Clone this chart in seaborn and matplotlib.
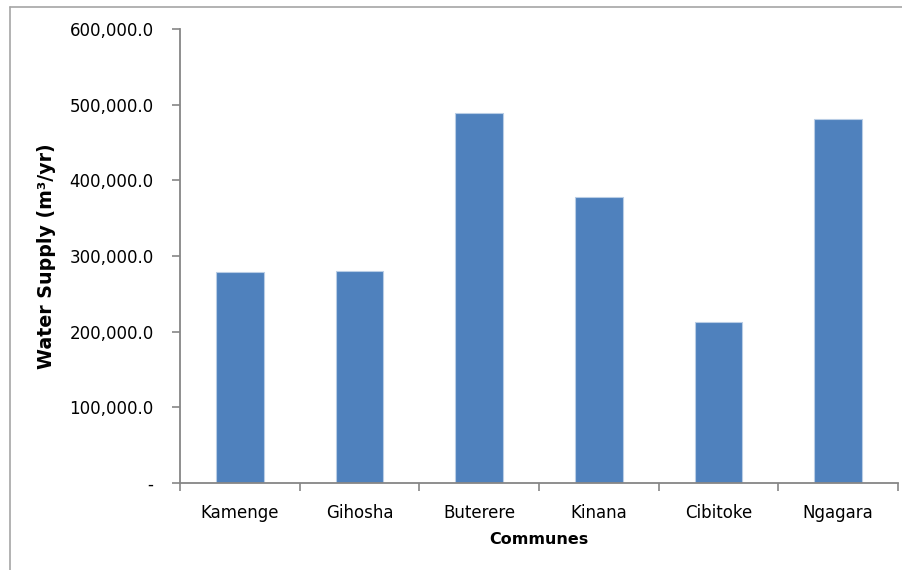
import matplotlib
matplotlib.use("Agg")
import matplotlib.pyplot as plt
import seaborn as sns
import pandas as pd
from matplotlib.lines import Line2D
from matplotlib.ticker import FuncFormatter, FixedLocator

communes = ["Kamenge", "Gihosha", "Buterere", "Kinana", "Cibitoke", "Ngagara"]
water_supply = [278400, 280600, 489000, 378400, 212800, 480400]
y_ticks = [0, 100000, 200000, 300000, 400000, 500000, 600000]

df = pd.DataFrame({"Commune": communes, "Supply": water_supply})

sns.set_theme(style="white")
plt.rcParams["font.family"] = ["DejaVu Sans"]

fig = plt.figure(figsize=(9.03, 5.70), dpi=100)
ax = fig.add_axes([180 / 903, 1 - 483 / 570, (898 - 180) / 903, (483 - 29) / 570])

sns.barplot(data=df, x="Commune", y="Supply", ax=ax, color="#4F81BD",
            width=0.4, saturation=1, edgecolor="#B9CDE5", linewidth=0.8)

ax.set_ylim(0, 600000)
ax.set_xlim(-0.5, len(communes) - 0.5)
ax.yaxis.set_major_locator(FixedLocator(y_ticks))
ax.yaxis.set_major_formatter(FuncFormatter(lambda v, p: "-" if v == 0 else f"{v:,.1f}"))

# category boundaries carry the tick marks; labels sit centered without marks
ax.set_xticks([i - 0.5 for i in range(len(communes) + 1)], minor=True)
ax.tick_params(axis="x", which="major", length=0, pad=15, labelsize=12, colors="black")
ax.tick_params(axis="x", which="minor", length=6, width=1.2, color="#868686", direction="out",
               bottom=True)
ax.tick_params(axis="y", which="major", length=6, width=1.2, color="#868686", direction="out",
               left=True, pad=13, labelsize=12, labelcolor="black")

for side in ["top", "right"]:
    ax.spines[side].set_visible(False)
for side in ["left", "bottom"]:
    ax.spines[side].set_color("#868686")
    ax.spines[side].set_linewidth(1.3)

ax.set_xlabel("Communes", fontsize=11.5, fontweight="bold", labelpad=10, color="black")
ax.set_ylabel("Water Supply (m³/yr)", fontsize=13.7, fontweight="bold", labelpad=14, color="black")
ax.yaxis.set_label_coords(-(180 - 47) / 718, 0.5)
ax.xaxis.set_label_coords(0.5, -(540 - 483) / 454)
ax.xaxis.label.set_va("center")
ax.yaxis.label.set_va("center")
ax.grid(False)

# chart-area frame edges
fig.add_artist(Line2D([10 / 903, 10 / 903], [0, 1 - 7 / 570], transform=fig.transFigure,
                      color="#A6A6A6", linewidth=1.2))
fig.add_artist(Line2D([10 / 903, 1], [1 - 7 / 570, 1 - 7 / 570], transform=fig.transFigure,
                      color="#A6A6A6", linewidth=1.2))

fig.savefig("out.png", dpi=100)
